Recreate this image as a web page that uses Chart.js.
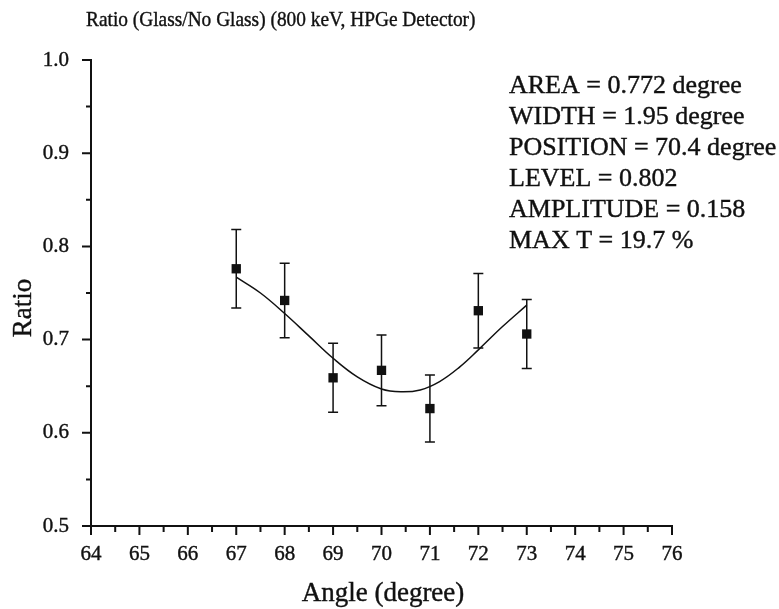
<!DOCTYPE html>
<html>
<head>
<meta charset="utf-8">
<script src="https://cdn.jsdelivr.net/npm/chart.js@4.4.1/dist/chart.umd.min.js"></script>
<style>
  html, body { margin: 0; padding: 0; background: #fff; }
  #wrap { width: 779px; height: 609px; position: relative; }
</style>
</head>
<body>
<div id="wrap"><canvas id="ratio-chart"></canvas></div>
<script>
/* Glass / no-glass count ratio vs. detector angle, with Gaussian dip fit */

const angles = [67, 68, 69, 70, 71, 72, 73];
const ratios = [0.776, 0.742, 0.659, 0.667, 0.626, 0.731, 0.706];
const ratioErr = [0.042, 0.040, 0.037, 0.038, 0.036, 0.040, 0.037];

// fitted curve, sampled along the drawn line
const fitAngles = [67, 67.5, 68, 68.5, 69, 69.5, 70, 70.4, 70.8, 71.2, 71.6, 72, 72.5, 73];
const fitRatios = [0.767, 0.750, 0.728, 0.704, 0.680, 0.660, 0.647, 0.644, 0.646, 0.655, 0.670, 0.689, 0.714, 0.737];

const xTicks = [64, 65, 66, 67, 68, 69, 70, 71, 72, 73, 74, 75, 76];
const yTicks = [0.5, 0.6, 0.7, 0.8, 0.9, 1.0];

const fitLines = [
  'AREA = 0.772 degree',
  'WIDTH = 1.95 degree',
  'POSITION = 70.4 degree',
  'LEVEL = 0.802',
  'AMPLITUDE = 0.158',
  'MAX T = 19.7 %',
];

const TITLE = 'Ratio (Glass/No Glass) (800 keV, HPGe Detector)';
const SERIF = "'Liberation Serif', 'DejaVu Serif', serif";
const INK = '#111';

// filled text with a hairline stroke so it reads as heavy as the print
function inkText(ctx, text, x, y) {
  ctx.fillText(text, x, y);
  ctx.strokeText(text, x, y);
}

// error bars behind the markers
const errorBars = {
  id: 'errorBars',
  beforeDatasetsDraw(chart) {
    const { ctx, scales: { x, y } } = chart;
    ctx.save();
    ctx.strokeStyle = INK;
    ctx.lineWidth = 1.5;
    angles.forEach((a, i) => {
      const px = x.getPixelForValue(a);
      const top = y.getPixelForValue(ratios[i] + ratioErr[i]);
      const bot = y.getPixelForValue(ratios[i] - ratioErr[i]);
      ctx.beginPath();
      ctx.moveTo(px, top); ctx.lineTo(px, bot);
      ctx.moveTo(px - 5, top); ctx.lineTo(px + 5, top);
      ctx.moveTo(px - 5, bot); ctx.lineTo(px + 5, bot);
      ctx.stroke();
    });
    ctx.restore();
  }
};

// outward major + minor tick marks, title and fit parameters
const decorations = {
  id: 'decorations',
  afterDraw(chart) {
    const { ctx, chartArea: area, scales: { x, y } } = chart;
    ctx.save();
    ctx.strokeStyle = INK;
    ctx.lineWidth = 2;
    ctx.beginPath();
    for (let k = 0; k <= 24; k++) {
      const px = x.getPixelForValue(64 + k * 0.5);
      const len = k % 2 === 0 ? 9 : 6;
      ctx.moveTo(px, area.bottom); ctx.lineTo(px, area.bottom + len);
    }
    for (let k = 0; k <= 10; k++) {
      const py = y.getPixelForValue(0.5 + k * 0.05);
      const len = k % 2 === 0 ? 9 : 5;
      ctx.moveTo(area.left, py); ctx.lineTo(area.left - len, py);
    }
    ctx.stroke();

    ctx.fillStyle = INK;
    ctx.strokeStyle = INK;
    ctx.lineWidth = 0.4;
    ctx.textBaseline = 'middle';
    ctx.textAlign = 'left';

    // title set a little narrow
    ctx.save();
    ctx.font = `22px ${SERIF}`;
    ctx.translate(86, 20);
    ctx.scale(0.88, 1);
    inkText(ctx, TITLE, 0, 0);
    ctx.restore();

    ctx.font = `26px ${SERIF}`;
    fitLines.forEach((t, i) => inkText(ctx, t, 509, 86 + i * 31));

    ctx.textAlign = 'center';
    ctx.font = `27px ${SERIF}`;
    inkText(ctx, 'Angle (degree)', 383, 594);

    ctx.translate(24, 308);
    ctx.rotate(-Math.PI / 2);
    inkText(ctx, 'Ratio', 0, 0);
    ctx.restore();
  }
};

new Chart(document.getElementById('ratio-chart'), {
  type: 'scatter',
  data: {
    datasets: [
      {
        label: 'Ratio',
        data: angles.map((a, i) => ({ x: a, y: ratios[i] })),
        pointStyle: 'rect',
        pointRadius: 6.6,
        pointHoverRadius: 6.6,
        backgroundColor: INK,
        borderColor: INK,
        borderWidth: 0,
        order: 1,
      },
      {
        label: 'Fit',
        data: fitAngles.map((a, i) => ({ x: a, y: fitRatios[i] })),
        showLine: true,
        tension: 0.4,
        pointRadius: 0,
        borderColor: INK,
        borderWidth: 1.5,
        fill: false,
        order: 2,
      },
    ],
  },
  options: {
    responsive: true,
    maintainAspectRatio: false,
    animation: false,
    layout: { padding: { left: 0, top: 60, right: 107, bottom: 0 } },
    plugins: {
      legend: { display: false },
      tooltip: { enabled: false },
      title: { display: false },
    },
    scales: {
      x: {
        type: 'linear',
        min: 64,
        max: 76,
        afterBuildTicks: (s) => { s.ticks = xTicks.map(v => ({ value: v })); },
        afterFit: (s) => { s.height = 609 - 526; },
        grid: { display: false },
        border: { display: true, color: INK, width: 2 },
        ticks: {
          color: INK,
          padding: 8,
          maxRotation: 0,
          textStrokeColor: INK,
          textStrokeWidth: 0.4,
          font: { family: SERIF, size: 21 },
        },
      },
      y: {
        type: 'linear',
        min: 0.5,
        max: 1.0,
        afterBuildTicks: (s) => { s.ticks = yTicks.map(v => ({ value: v })); },
        afterFit: (s) => { s.width = 91; },
        grid: { display: false },
        border: { display: true, color: INK, width: 2 },
        ticks: {
          color: INK,
          padding: 14,
          textStrokeColor: INK,
          textStrokeWidth: 0.4,
          font: { family: SERIF, size: 21 },
          callback: (v) => v.toFixed(1),
        },
      },
    },
  },
  plugins: [errorBars, decorations],
});
</script>
</body>
</html>
